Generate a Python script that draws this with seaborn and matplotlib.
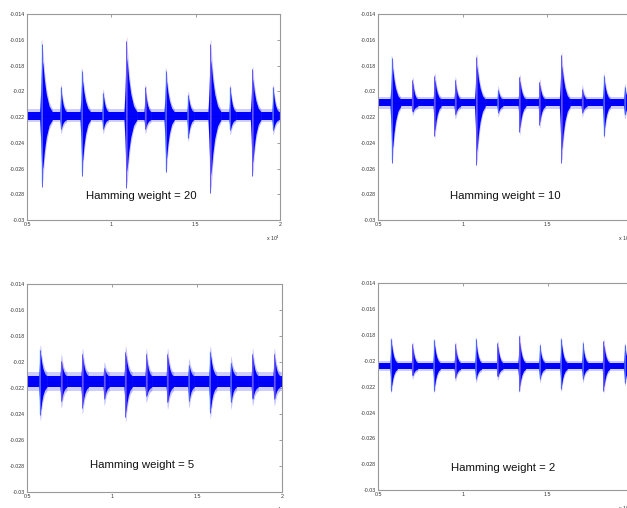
import matplotlib
matplotlib.use("Agg")
import matplotlib.pyplot as plt
import numpy as np
import pandas as pd
import seaborn as sns

sns.set_style("white")
plt.rcParams["font.family"] = ["Liberation Sans", "DejaVu Sans"]

# Burst positions (x 10^4 samples) and spike extremes
hw20_pos = [0.587, 0.70, 0.824, 0.95, 1.087, 1.20, 1.322, 1.454, 1.585, 1.703, 1.834, 1.958]
hw20_top = [-0.0163, -0.0197, -0.0184, -0.0201, -0.0161, -0.0197, -0.0184, -0.0203, -0.0163, -0.0197, -0.0183, -0.0197]
hw20_bot = [-0.0274, -0.0229, -0.0266, -0.0229, -0.0275, -0.0229, -0.0263, -0.0236, -0.0279, -0.0230, -0.0266, -0.0230]

hw10_pos = [0.581, 0.703, 0.833, 0.955, 1.080, 1.208, 1.335, 1.453, 1.581, 1.705, 1.833, 1.956]
hw10_top = [-0.0174, -0.0191, -0.0188, -0.0191, -0.0173, -0.0199, -0.0189, -0.0193, -0.0172, -0.0198, -0.0188, -0.0197]
hw10_bot = [-0.0256, -0.0215, -0.0235, -0.0218, -0.0257, -0.0216, -0.0232, -0.0226, -0.0256, -0.0216, -0.0235, -0.0218]

hw5_pos = [0.576, 0.70, 0.824, 0.953, 1.078, 1.20, 1.325, 1.451, 1.576, 1.698, 1.825, 1.953]
hw5_top = [-0.0191, -0.0199, -0.0194, -0.0206, -0.0192, -0.0194, -0.0194, -0.0203, -0.0192, -0.0201, -0.0194, -0.0194]
hw5_bot = [-0.0241, -0.0230, -0.0235, -0.0228, -0.0242, -0.0225, -0.0231, -0.0230, -0.0239, -0.0231, -0.0228, -0.0228]

hw2_pos = [0.575, 0.701, 0.829, 0.954, 1.076, 1.204, 1.332, 1.453, 1.579, 1.707, 1.830, 1.955]
hw2_top = [-0.0183, -0.0187, -0.0184, -0.0187, -0.0183, -0.0186, -0.0181, -0.0188, -0.0183, -0.0186, -0.0185, -0.0188]
hw2_bot = [-0.0223, -0.0211, -0.0223, -0.0213, -0.0214, -0.0212, -0.0223, -0.0214, -0.0222, -0.0214, -0.0223, -0.0217]

# resting level and half-width of the dense noise band for each trace
baselines = [-0.0219, -0.0209, -0.0215, -0.0204]
band_half = [0.0003, 0.00027, 0.00042, 0.00024]
weights = [20, 10, 5, 2]

x_ticks = [0.5, 1, 1.5, 2]
x_ticklabels = ["0.5", "1", "1.5", "2"]
y_ticks = [-0.014, -0.016, -0.018, -0.02, -0.022, -0.024, -0.026, -0.028, -0.03]
y_ticklabels = ["-0.014", "-0.016", "-0.018", "-0.02", "-0.022", "-0.024", "-0.026", "-0.028", "-0.03"]

panels = [
    (hw20_pos, hw20_top, hw20_bot),
    (hw10_pos, hw10_top, hw10_bot),
    (hw5_pos, hw5_top, hw5_bot),
    (hw2_pos, hw2_top, hw2_bot),
]

# axes rectangles in figure fractions (MATLAB screenshot layout)
rects = [
    [0.0431, 0.5669, 0.4035, 0.4055],
    [0.6029, 0.5669, 0.4050, 0.4055],
    [0.0431, 0.0315, 0.4067, 0.4094],
    [0.6033, 0.0354, 0.4050, 0.4069],
]
label_xy = [(0.45, 0.117), (0.503, 0.117), (0.45, 0.13), (0.49, 0.108)]

# spindle shape of the largest burst (offset from onset / fraction of amplitude)
env_dx = np.array([-0.012, -0.006, -0.002, 0.002, 0.008, 0.016, 0.028, 0.045, 0.065])
env_amp = np.array([0.0, 0.35, 0.7, 0.9, 0.8, 0.55, 0.3, 0.1, 0.0])

fig = plt.figure(figsize=(6.27, 5.08), dpi=100)

for i, (pos, top, bot) in enumerate(panels):
    ax = fig.add_axes(rects[i])
    base = baselines[i]
    hw = band_half[i]

    # noise band
    band = pd.DataFrame({"x": [0.5, 2.0], "y": [base, base]})
    ax.fill_between(band["x"], band["y"] - hw * 1.7, band["y"] + hw * 1.7,
                    color="#7070ff", lw=0, alpha=0.35)
    ax.fill_between(band["x"], band["y"] - hw, band["y"] + hw,
                    color="#0000ff", lw=0)
    sns.lineplot(data=band, x="x", y="y", ax=ax, color="#0000dd", lw=0.5)

    for x0, t, b in zip(pos, top, bot):
        up = t - base
        dn = base - b
        scale = min(1.0, 0.35 + 0.65 * (up + dn) / 0.0115)
        xs = x0 + env_dx * scale
        ax.fill_between(xs, base + hw * 1.7 + up * env_amp,
                        base - hw * 1.7 - dn * env_amp,
                        color="#6a6aff", lw=0, alpha=0.4)
        ax.fill_between(xs, base + hw + up * env_amp * 0.82,
                        base - hw - dn * env_amp * 0.82,
                        color="#0000ff", lw=0)
        ax.vlines(x0 - 0.003, b + dn * 0.05, t + up * 0.03, color="#7fe0e8",
                  lw=0.4, alpha=0.6)
        ax.vlines(x0 + 0.003, b + dn * 0.08, t + up * 0.05, color="#f0a0d0",
                  lw=0.4, alpha=0.6)
        ax.vlines(x0, b, t, color="#5a5aff", lw=0.7)

    ax.set_xlim(0.5, 2.0)
    ax.set_ylim(-0.03, -0.014)
    ax.set_xticks(x_ticks)
    ax.set_xticklabels(x_ticklabels)
    ax.set_yticks(y_ticks)
    ax.set_yticklabels(y_ticklabels)
    ax.set_xlabel("")
    ax.set_ylabel("")
    ax.tick_params(direction="in", length=2, width=0.5, labelsize=3.8,
                   colors="#777777", labelcolor="#333333", pad=1.5,
                   top=True, right=True)
    for sp in ax.spines.values():
        sp.set_color("#999999")
        sp.set_linewidth(0.8)

    ax.text(1.0, -0.065, "x 10$^4$", transform=ax.transAxes, ha="right",
            va="top", fontsize=3.8, color="#333333")
    ax.text(label_xy[i][0], label_xy[i][1], f"Hamming weight = {weights[i]}",
            transform=ax.transAxes, ha="center", va="center", fontsize=8.2,
            color="#111111")

fig.savefig("out.png", dpi=100)
